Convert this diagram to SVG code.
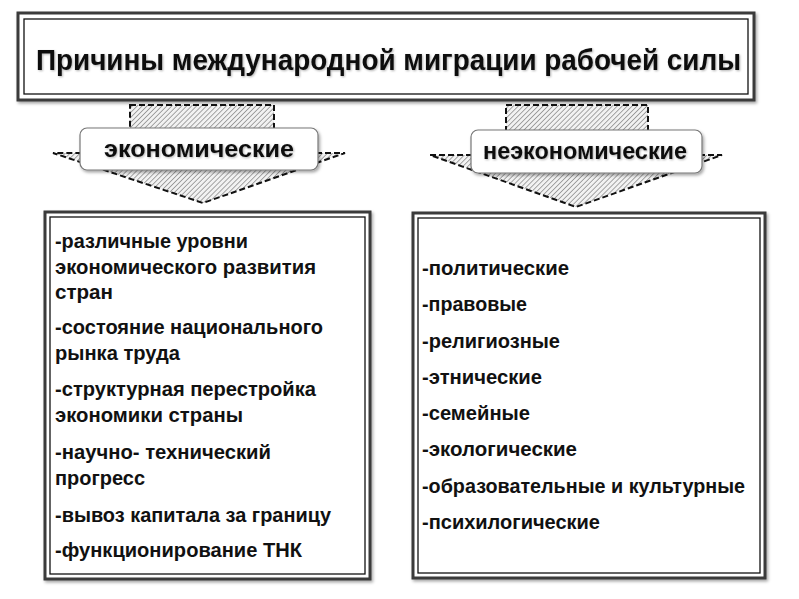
<svg xmlns="http://www.w3.org/2000/svg" width="799" height="599" viewBox="0 0 799 599">
<defs>
<pattern id="hatch" patternUnits="userSpaceOnUse" width="3.5" height="3.5" patternTransform="rotate(45)">
<rect width="3.5" height="3.5" fill="#f2f2f2"/>
<line x1="0" y1="0" x2="0" y2="3.5" stroke="#7a7a7a" stroke-width="1.3"/>
</pattern>
<filter id="sh" x="-5%" y="-5%" width="110%" height="120%">
<feDropShadow dx="1.5" dy="2" stdDeviation="1.5" flood-color="#000" flood-opacity="0.35"/>
</filter>
<filter id="ts" x="-5%" y="-20%" width="110%" height="140%">
<feDropShadow dx="1" dy="1" stdDeviation="1" flood-color="#000" flood-opacity="0.3"/>
</filter>
</defs>
<style>
.outer{fill:#fff;stroke:#3a3a3a;stroke-width:3}
.inner{fill:none;stroke:#111;stroke-width:1.3}
.arrow{fill:url(#hatch);stroke:#111;stroke-width:2;stroke-dasharray:6 3}
.lbl{fill:#fff;stroke:#777;stroke-width:1.2}
.t{font-family:"Liberation Sans",Arial,sans-serif;font-weight:bold;fill:#111}
.title{font-size:30px}
.lab{font-size:24px}
.item{font-size:20px}
</style>
<rect width="799" height="599" fill="#fff"/>

<g id="title">
<rect class="outer" x="18" y="13" width="736" height="87" filter="url(#sh)"/>
<rect class="inner" x="24" y="19" width="724" height="75"/>
<text class="t title" x="36" y="70" textLength="705" lengthAdjust="spacingAndGlyphs" filter="url(#ts)">Причины международной миграции рабочей силы</text>
</g>

<g id="connectors">
<path class="arrow" d="M130,105 H274 V153 H345 L203,203 L53,153 H130 Z"/>
<path class="arrow" d="M506,105 H648 V155 H722 L576,207 L430,155 H506 Z"/>
</g>

<g id="econ-label">
<rect class="lbl" x="80" y="128" width="238" height="42" rx="7" filter="url(#sh)"/>
<text class="t lab" x="199" y="157" text-anchor="middle" textLength="190" lengthAdjust="spacingAndGlyphs" filter="url(#ts)">экономические</text>
</g>

<g id="nonecon-label">
<rect class="lbl" x="471" y="130" width="231" height="43" rx="7" filter="url(#sh)"/>
<text class="t lab" x="585" y="159" text-anchor="middle" textLength="204" lengthAdjust="spacingAndGlyphs" filter="url(#ts)">неэкономические</text>
</g>

<g id="econ-box">
<rect class="outer" x="45" y="212" width="325" height="367" filter="url(#sh)"/>
<rect class="inner" x="50" y="217" width="315" height="357"/>
<text class="t item" x="55" y="248" textLength="193" lengthAdjust="spacingAndGlyphs">-различные уровни</text>
<text class="t item" x="55" y="274" textLength="261" lengthAdjust="spacingAndGlyphs">экономического развития</text>
<text class="t item" x="55" y="299" textLength="58" lengthAdjust="spacingAndGlyphs">стран</text>
<text class="t item" x="55" y="334" textLength="268" lengthAdjust="spacingAndGlyphs">-состояние национального</text>
<text class="t item" x="55" y="360" textLength="125" lengthAdjust="spacingAndGlyphs">рынка труда</text>
<text class="t item" x="55" y="396" textLength="261" lengthAdjust="spacingAndGlyphs">-структурная перестройка</text>
<text class="t item" x="55" y="422" textLength="188" lengthAdjust="spacingAndGlyphs">экономики страны</text>
<text class="t item" x="55" y="459" textLength="216" lengthAdjust="spacingAndGlyphs">-научно- технический</text>
<text class="t item" x="55" y="485" textLength="90" lengthAdjust="spacingAndGlyphs">прогресс</text>
<text class="t item" x="55" y="522" textLength="276" lengthAdjust="spacingAndGlyphs">-вывоз капитала за границу</text>
<text class="t item" x="55" y="557" textLength="247" lengthAdjust="spacingAndGlyphs">-функционирование ТНК</text>
</g>

<g id="nonecon-box">
<rect class="outer" x="413" y="213" width="352" height="365" filter="url(#sh)"/>
<rect class="inner" x="418" y="218" width="342" height="355"/>
<text class="t item" x="422" y="275" textLength="147" lengthAdjust="spacingAndGlyphs">-политические</text>
<text class="t item" x="422" y="311" textLength="105" lengthAdjust="spacingAndGlyphs">-правовые</text>
<text class="t item" x="422" y="348" textLength="138" lengthAdjust="spacingAndGlyphs">-религиозные</text>
<text class="t item" x="422" y="384" textLength="120" lengthAdjust="spacingAndGlyphs">-этнические</text>
<text class="t item" x="422" y="420" textLength="108" lengthAdjust="spacingAndGlyphs">-семейные</text>
<text class="t item" x="422" y="456" textLength="155" lengthAdjust="spacingAndGlyphs">-экологические</text>
<text class="t item" x="422" y="493" textLength="323" lengthAdjust="spacingAndGlyphs">-образовательные и культурные</text>
<text class="t item" x="422" y="529" textLength="178" lengthAdjust="spacingAndGlyphs">-психилогические</text>
</g>
</svg>
